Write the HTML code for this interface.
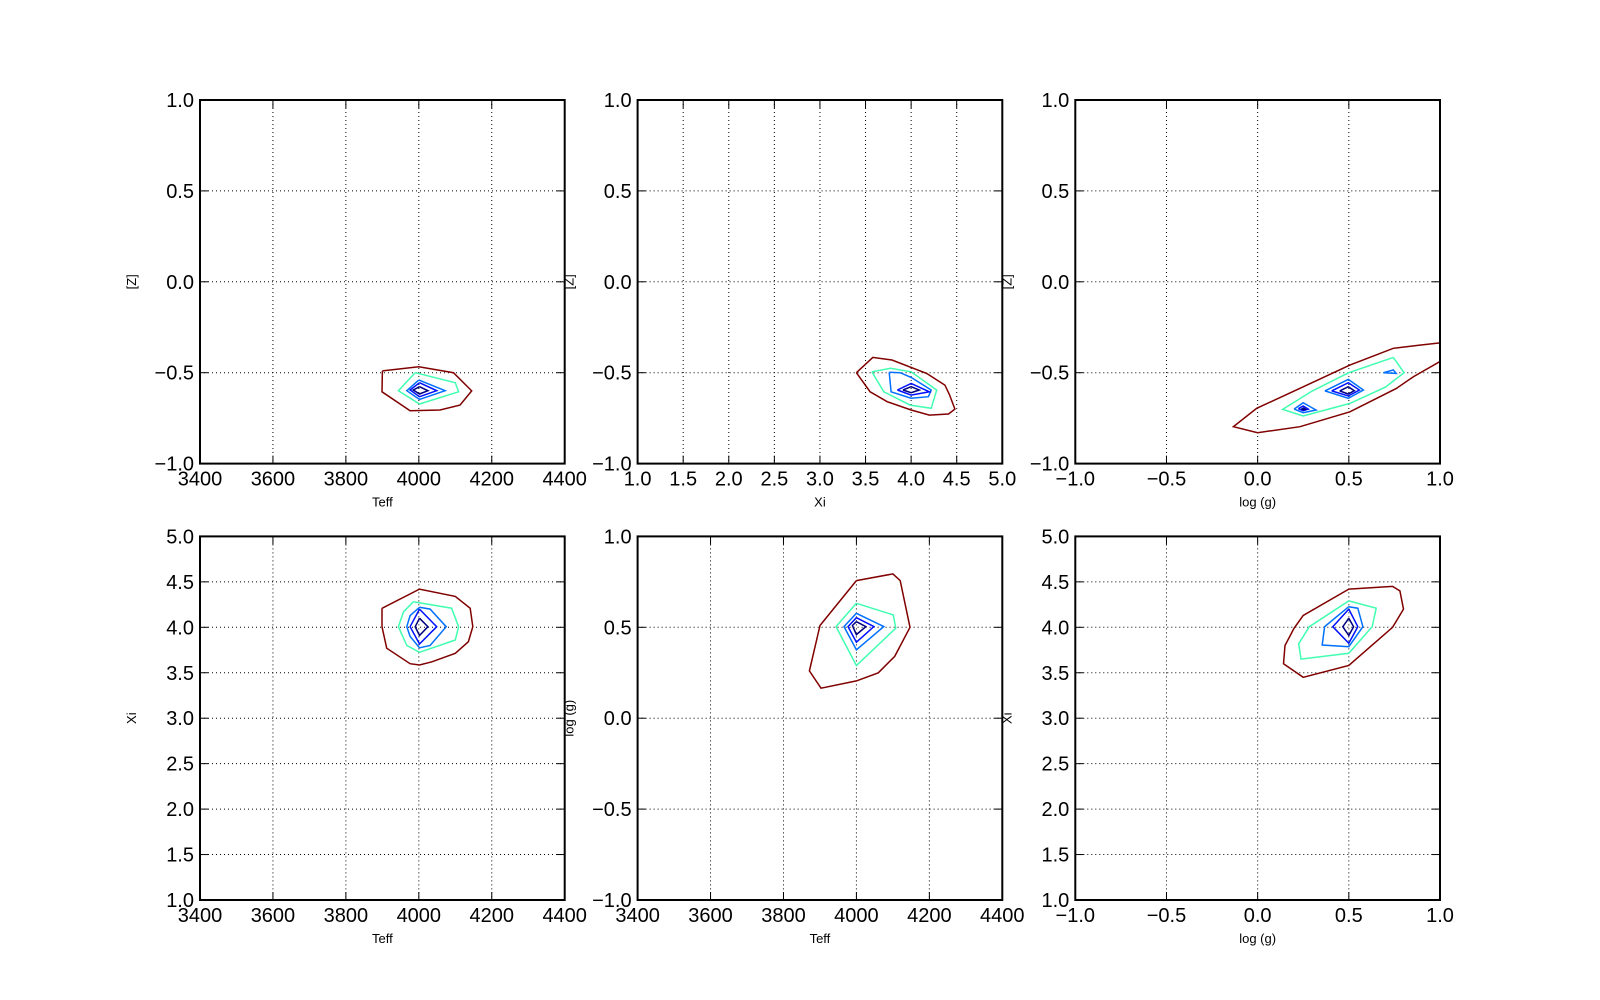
<!DOCTYPE html>
<html><head><meta charset="utf-8"><style>
html,body{margin:0;padding:0;background:#fff}
svg{display:block;font-family:"Liberation Sans","DejaVu Sans",sans-serif}
</style></head><body>
<svg id="fig" width="1600" height="1000" viewBox="0 0 1600 1000"></svg>
<script>
// ---- data (contour polygons in data coordinates) ----
const levelColors = ["#800000","#40ffb0","#0070ff","#0010ff","#000080"];
const xTicksTeff = [3400,3600,3800,4000,4200,4400];
const xTicksXi = [1.0,1.5,2.0,2.5,3.0,3.5,4.0,4.5,5.0];
const xTicksLogg = [-1.0,-0.5,0.0,0.5,1.0];
const yTicksZ = [-1.0,-0.5,0.0,0.5,1.0];
const yTicksXi = [1.0,1.5,2.0,2.5,3.0,3.5,4.0,4.5,5.0];
const yTicksLogg = [-1.0,-0.5,0.0,0.5,1.0];

const c1_red = [[3900,-0.49],[4000,-0.467],[4095,-0.5],[4145,-0.6],[4113,-0.678],[4058,-0.705],[3976,-0.709],[3899,-0.605],[3900,-0.49]];
const c1_green = [[3990,-0.5],[4100,-0.555],[4109,-0.605],[4002,-0.672],[3944,-0.599],[3990,-0.5]];
const c1_lblue = [[4000,-0.54],[4072,-0.599],[4002,-0.647],[3967,-0.599],[4000,-0.54]];
const c1_blue = [[4002,-0.555],[4049,-0.599],[4002,-0.632],[3976,-0.595],[4002,-0.555]];
const c1_navy = [[4002,-0.577],[4025,-0.599],[4002,-0.617],[3985,-0.595],[4002,-0.577]];

const c2_red = [[3.4,-0.5],[3.58,-0.416],[3.79,-0.43],[4.17,-0.504],[4.37,-0.568],[4.42,-0.62],[4.48,-0.7],[4.41,-0.727],[4.2,-0.733],[4.0,-0.705],[3.74,-0.66],[3.55,-0.605],[3.4,-0.5]];
const c2_green = [[3.57,-0.495],[3.77,-0.476],[4.0,-0.495],[4.28,-0.595],[4.22,-0.696],[3.99,-0.678],[3.7,-0.605],[3.57,-0.495]];
const c2_lblue = [[3.76,-0.498],[3.88,-0.5],[4.0,-0.526],[4.22,-0.595],[4.19,-0.632],[4.0,-0.64],[3.78,-0.605],[3.76,-0.498]];
const c2_blue = [[3.85,-0.595],[4.0,-0.559],[4.2,-0.605],[4.0,-0.623],[3.85,-0.595]];
const c2_navy = [[3.91,-0.595],[4.0,-0.577],[4.09,-0.595],[4.0,-0.61],[3.91,-0.595]];

const c3_red = [[1.05,-0.33],[0.89,-0.348],[0.744,-0.366],[0.506,-0.458],[0.232,-0.586],[-0.005,-0.696],[-0.133,-0.797],[0.0,-0.83],[0.232,-0.797],[0.506,-0.715],[0.762,-0.586],[0.854,-0.522],[1.05,-0.41]];
const c3_green = [[0.744,-0.416],[0.803,-0.5],[0.7,-0.58],[0.506,-0.669],[0.25,-0.738],[0.137,-0.702],[0.3,-0.6],[0.5,-0.5],[0.744,-0.416]];
const c3_lblue_a = [[0.369,-0.6],[0.497,-0.537],[0.58,-0.595],[0.497,-0.641],[0.369,-0.6]];
const c3_lblue_b = [[0.2,-0.7],[0.25,-0.665],[0.32,-0.705],[0.25,-0.72],[0.2,-0.7]];
const c3_lblue_c = [[0.689,-0.5],[0.744,-0.485],[0.76,-0.504],[0.689,-0.5]];
const c3_blue_a = [[0.406,-0.6],[0.497,-0.555],[0.558,-0.595],[0.497,-0.628],[0.406,-0.6]];
const c3_blue_b = [[0.223,-0.698],[0.25,-0.683],[0.278,-0.7],[0.25,-0.709],[0.223,-0.698]];
const c3_navy_a = [[0.45,-0.6],[0.497,-0.577],[0.53,-0.599],[0.497,-0.617],[0.45,-0.6]];
const c3_navy_b = [[0.24,-0.699],[0.252,-0.694],[0.262,-0.7],[0.252,-0.704],[0.24,-0.699]];

const c4_red = [[3899,4.209],[4002,4.42],[4100,4.34],[4141,4.209],[4148,4.007],[4136,3.842],[4100,3.714],[4036,3.62],[4002,3.585],[3976,3.6],[3912,3.77],[3899,4.007],[3899,4.209]];
const c4_green = [[3985,4.28],[4090,4.21],[4109,4.007],[4100,3.86],[4002,3.725],[3967,3.8],[3944,4.007],[3958,4.17],[3985,4.28]];
const c4_lblue = [[4002,4.22],[4031,4.2],[4075,4.007],[4031,3.8],[4002,3.775],[3976,3.9],[3967,4.007],[3976,4.13],[4002,4.22]];
const c4_blue = [[4002,4.2],[4049,4.007],[4002,3.816],[3976,4.007],[4002,4.2]];
const c4_navy = [[4002,4.1],[4025,4.007],[4002,3.91],[3990,4.007],[4002,4.1]];

const c5_red = [[4000,0.757],[4100,0.794],[4120,0.757],[4147,0.5],[4105,0.34],[4060,0.25],[4000,0.205],[3903,0.165],[3871,0.26],[3900,0.51],[4000,0.757]];
const c5_green = [[4000,0.632],[4101,0.568],[4108,0.495],[4000,0.29],[3944,0.504],[4000,0.632]];
const c5_lblue = [[4000,0.577],[4075,0.504],[4000,0.376],[3966,0.504],[4000,0.577]];
const c5_blue = [[4000,0.553],[4048,0.504],[4000,0.418],[3977,0.504],[4000,0.553]];
const c5_navy = [[4000,0.531],[4026,0.504],[4000,0.46],[3989,0.51],[4000,0.531]];

const c6_red = [[0.5,4.42],[0.74,4.45],[0.78,4.4],[0.8,4.2],[0.74,4.0],[0.5,3.58],[0.25,3.45],[0.142,3.6],[0.15,3.8],[0.2,3.99],[0.25,4.13],[0.5,4.42]];
const c6_green = [[0.5,4.29],[0.65,4.21],[0.628,4.007],[0.5,3.714],[0.238,3.65],[0.225,3.82],[0.283,4.007],[0.5,4.29]];
const c6_lblue = [[0.5,4.227],[0.549,4.21],[0.577,4.007],[0.5,3.787],[0.354,3.805],[0.367,4.007],[0.5,4.227]];
const c6_blue = [[0.5,4.2],[0.549,4.007],[0.5,3.824],[0.412,4.007],[0.5,4.2]];
const c6_navy = [[0.5,4.1],[0.526,4.007],[0.5,3.91],[0.467,4.007],[0.5,4.1]];

// ---- layout ----
const NS="http://www.w3.org/2000/svg";
const svg=document.getElementById('fig');
const colX=[200,637.6,1075.3], W=364.7;
const rowY=[100,536.4], H=363.6;
function mk(tag,attrs,parent){const e=document.createElementNS(NS,tag);for(const k in attrs)e.setAttribute(k,attrs[k]);(parent||svg).appendChild(e);return e;}
function fmt(v){return (v<0?"\u2212":"")+Math.abs(v).toFixed(v%1===0&&Math.abs(v)>=100?0:1);}

const panels=[
 {c:0,r:0,xd:[3400,4400],yd:[-1,1],xt:xTicksTeff,yt:yTicksZ,xl:"Teff",yl:"[Z]",cs:[[c1_red],[c1_green],[c1_lblue],[c1_blue],[c1_navy]]},
 {c:1,r:0,xd:[1,5],yd:[-1,1],xt:xTicksXi,yt:yTicksZ,xl:"Xi",yl:"[Z]",cs:[[c2_red],[c2_green],[c2_lblue],[c2_blue],[c2_navy]]},
 {c:2,r:0,xd:[-1,1],yd:[-1,1],xt:xTicksLogg,yt:yTicksZ,xl:"log (g)",yl:"[Z]",cs:[[c3_red],[c3_green],[c3_lblue_a,c3_lblue_b,c3_lblue_c],[c3_blue_a,c3_blue_b],[c3_navy_a,c3_navy_b]]},
 {c:0,r:1,xd:[3400,4400],yd:[1,5],xt:xTicksTeff,yt:yTicksXi,xl:"Teff",yl:"Xi",cs:[[c4_red],[c4_green],[c4_lblue],[c4_blue],[c4_navy]]},
 {c:1,r:1,xd:[3400,4400],yd:[-1,1],xt:xTicksTeff,yt:yTicksLogg,xl:"Teff",yl:"log (g)",cs:[[c5_red],[c5_green],[c5_lblue],[c5_blue],[c5_navy]]},
 {c:2,r:1,xd:[-1,1],yd:[1,5],xt:xTicksLogg,yt:yTicksXi,xl:"log (g)",yl:"Xi",cs:[[c6_red],[c6_green],[c6_lblue],[c6_blue],[c6_navy]]}
];

panels.forEach((p,i)=>{
 const x0=colX[p.c], y0=rowY[p.r];
 const sx=v=>x0+(v-p.xd[0])/(p.xd[1]-p.xd[0])*W;
 const sy=v=>y0+H-(v-p.yd[0])/(p.yd[1]-p.yd[0])*H;
 const g=mk('g',{});
 
 
 const cid='clip'+i;
 const cp=mk('clipPath',{id:cid},g); mk('rect',{x:x0,y:y0,width:W,height:H},cp);
 // grid
 p.xt.forEach(t=>{const gx=sx(t);const l=mk('line',{x1:gx,x2:gx,y1:y0,y2:y0+H,stroke:'#000','stroke-width':1,'stroke-dasharray':'1,3'},g);
  
  });
 p.yt.forEach(t=>{const gy=sy(t);const l=mk('line',{x1:x0,x2:x0+W,y1:gy,y2:gy,stroke:'#000','stroke-width':1,'stroke-dasharray':'1,3'},g);
  
  });
 // contours
 const cg=mk('g',{'clip-path':'url(#'+cid+')'},g);
 p.cs.forEach((polys,li)=>{polys.forEach(poly=>{
  const pts=poly.map(q=>sx(q[0]).toFixed(1)+','+sy(q[1]).toFixed(1)).join(' ');
  const pl=mk('polyline',{points:pts,fill:'none',stroke:levelColors[li],'stroke-width':1.5,'stroke-linejoin':'miter'},cg);
  
  
 });});
 // ticks
 p.xt.forEach(t=>{const gx=sx(t);
  mk('line',{x1:gx,x2:gx,y1:y0+H,y2:y0+H-8,stroke:'#000','stroke-width':1},g);
  mk('line',{x1:gx,x2:gx,y1:y0,y2:y0+8,stroke:'#000','stroke-width':1},g);
  const tx=mk('text',{x:gx,y:y0+H+22,'font-size':20,'text-anchor':'middle'},g);tx.textContent=fmt(t);
  
  });
 p.yt.forEach(t=>{const gy=sy(t);
  mk('line',{x1:x0,x2:x0+8,y1:gy,y2:gy,stroke:'#000','stroke-width':1},g);
  mk('line',{x1:x0+W,x2:x0+W-8,y1:gy,y2:gy,stroke:'#000','stroke-width':1},g);
  const tx=mk('text',{x:x0-6,y:gy+7,'font-size':20,'text-anchor':'end'},g);tx.textContent=fmt(t);
  
  });
 const fr=mk('rect',{x:x0,y:y0,width:W,height:H,fill:'none',stroke:'#000','stroke-width':2},g);
 
 
 const xl=mk('text',{x:x0+W/2,y:y0+H+43,'font-size':13,'text-anchor':'middle'},g);xl.textContent=p.xl;
 
 
 const yx=x0-64, yy=y0+H/2;
 const yl=mk('text',{x:yx,y:yy,'font-size':13,'text-anchor':'middle',transform:'rotate(-90 '+yx+' '+yy+')'},g);yl.textContent=p.yl;
 
 
});
</script>
</body></html>
